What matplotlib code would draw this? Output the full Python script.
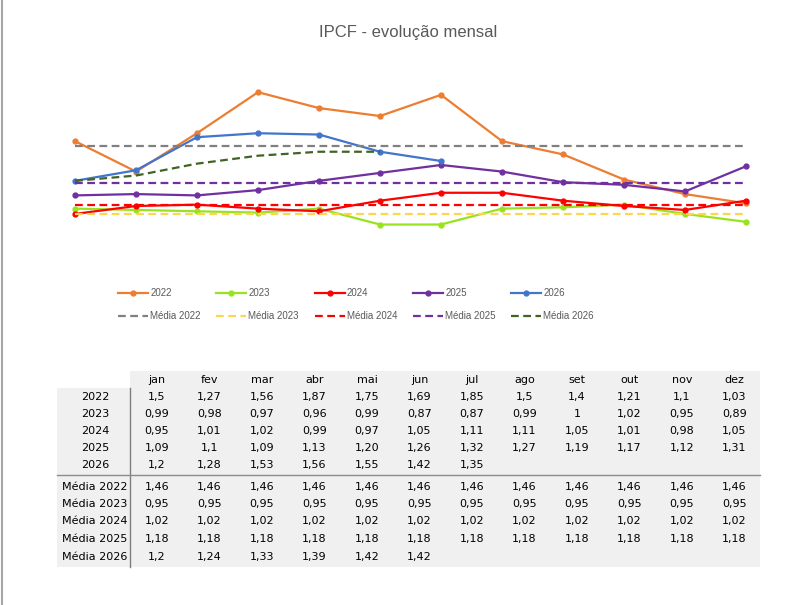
"""IPCF - evolução mensal: linhas por ano + médias, com tabela de valores por baixo."""

import matplotlib
matplotlib.use("Agg")
import matplotlib.pyplot as plt
from matplotlib.lines import Line2D
from matplotlib.patches import Rectangle

# meses (cabeçalho da tabela)
meses = ["jan", "fev", "mar", "abr", "mai", "jun", "jul", "ago", "set", "out", "nov", "dez"]

# valores tal como aparecem na tabela (vírgula decimal)
v2022 = ["1,5", "1,27", "1,56", "1,87", "1,75", "1,69", "1,85", "1,5", "1,4", "1,21", "1,1", "1,03"]
v2023 = ["0,99", "0,98", "0,97", "0,96", "0,99", "0,87", "0,87", "0,99", "1", "1,02", "0,95", "0,89"]
v2024 = ["0,95", "1,01", "1,02", "0,99", "0,97", "1,05", "1,11", "1,11", "1,05", "1,01", "0,98", "1,05"]
v2025 = ["1,09", "1,1", "1,09", "1,13", "1,20", "1,26", "1,32", "1,27", "1,19", "1,17", "1,12", "1,31"]
v2026 = ["1,2", "1,28", "1,53", "1,56", "1,55", "1,42", "1,35"]
media2022 = ["1,46"] * 12
media2023 = ["0,95"] * 12
media2024 = ["1,02"] * 12
media2025 = ["1,18"] * 12
media2026 = ["1,2", "1,24", "1,33", "1,39", "1,42", "1,42"]

linhas = [("2022", v2022), ("2023", v2023), ("2024", v2024), ("2025", v2025), ("2026", v2026)]
medias = [("Média 2022", media2022), ("Média 2023", media2023), ("Média 2024", media2024),
          ("Média 2025", media2025), ("Média 2026", media2026)]

cores_linhas = ["#ED7D31", "#99E31E", "#FF0000", "#7030A0", "#4275CC"]
cores_medias = ["#808080", "#FFD54F", "#FF0000", "#7030A0", "#3F6423"]

W, H = 809, 605


def fx(x):
    return x / W


def fy(y):
    return 1 - y / H


def num(s):
    return float(s.replace(",", "."))


fig = plt.figure(figsize=(W / 100, H / 100), dpi=100)

# área do gráfico (sem eixos visíveis)
ax = fig.add_axes([fx(75), fy(247), fx(746) - fx(75), fy(75) - fy(247)])
ax.set_xlim(0, 11)
ax.set_ylim(0.7, 2.0)
ax.axis("off")

handles = []
labels = []
for (nome, vals), cor in zip(linhas, cores_linhas):
    h, = ax.plot(range(len(vals)), [num(v) for v in vals], color=cor, lw=1.6,
                 marker="o", markersize=3.5, clip_on=False)
    handles.append(h)
    labels.append(nome)
for (nome_m, vals_m), cor_m in zip(medias, cores_medias):
    h, = ax.plot(range(len(vals_m)), [num(v) for v in vals_m], color=cor_m, lw=1.6,
                 ls=(0, (3.5, 2)), clip_on=False)
    handles.append(h)
    labels.append(nome_m)

# ordem por colunas: ano em cima, média em baixo
ordem = []
for i in range(5):
    ordem += [i, i + 5]
fig.legend([handles[i] for i in ordem], [labels[i] for i in ordem], ncol=5,
           loc="upper left", bbox_to_anchor=(fx(118), fy(288)), frameon=False,
           prop={"family": "Liberation Sans", "size": 7}, labelcolor="#595959",
           handlelength=3.1, handletextpad=0.2, columnspacing=1.62, labelspacing=1.38,
           borderpad=0, borderaxespad=0)

fig.text(fx(408), fy(33), "IPCF - evolução mensal", ha="center", va="center",
         fontsize=12, color="#595959", family="Liberation Sans")

# tabela por baixo
cinza = "#F0F0F0"
x_lab = 57
x_sep = 130
x_fim = 760
fig.patches.append(Rectangle((fx(x_sep), fy(388)), fx(x_fim) - fx(x_sep), fy(371) - fy(388),
                             transform=fig.transFigure, facecolor=cinza, edgecolor="none"))
fig.patches.append(Rectangle((fx(x_lab), fy(567)), fx(x_fim) - fx(x_lab), fy(388) - fy(567),
                             transform=fig.transFigure, facecolor=cinza, edgecolor="none"))
fig.add_artist(Line2D([fx(x_sep), fx(x_sep)], [fy(388), fy(567)], transform=fig.transFigure,
                      color="#7F7F7F", lw=1))
fig.add_artist(Line2D([fx(x_lab), fx(x_fim)], [fy(475), fy(475)], transform=fig.transFigure,
                      color="#8C8C8C", lw=1))

col_x = [157 + 52.5 * i for i in range(12)]
y_linhas = [397, 414, 431, 448, 465, 487, 504, 521, 539, 557]
fonte_tab = {"family": "DejaVu Sans", "size": 8, "color": "black"}

for m, x in zip(meses, col_x):
    fig.text(fx(x), fy(380), m, ha="center", va="center", **fonte_tab)

for (nome, vals), y in zip(linhas + medias, y_linhas):
    fig.text(fx(95), fy(y), nome, ha="center", va="center", **fonte_tab)
    for v, x in zip(vals, col_x):
        fig.text(fx(x), fy(y), v, ha="center", va="center", **fonte_tab)

# borda esquerda
fig.add_artist(Line2D([fx(2), fx(2)], [0, 1], transform=fig.transFigure, color="#A6A6A6", lw=1.5))

fig.savefig("out.png", dpi=100)
